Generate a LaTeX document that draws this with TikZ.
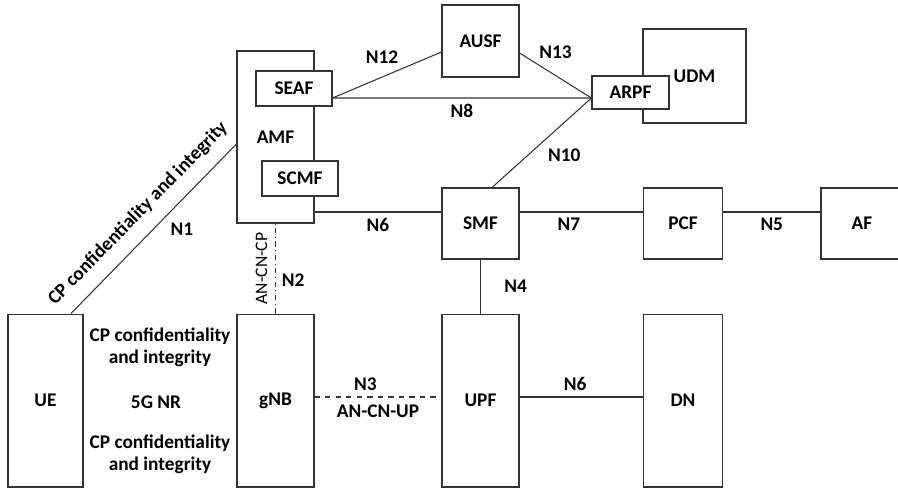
\documentclass[tikz,border=0pt]{standalone}
\usepackage{fontspec}
\setmainfont{Carlito}
\usepackage{tikz}
\usetikzlibrary{calc,positioning}
\tikzset{nfbox/.style={rectangle, draw=black!80, fill=white, line width=0.6pt, inner sep=0pt, align=center, font=\fontsize{11}{12.5}\selectfont\bfseries},
	lbl/.style={align=center, font=\fontsize{11}{12.5}\selectfont\bfseries},
	link/.style={draw=black!80, line width=0.6pt}}

\begin{document}
\begin{tikzpicture}[x=0.02cm,y=-0.02cm]
	\useasboundingbox (0,0) rectangle (898,488);
	\clip (0,0) rectangle (898,488);
	\node [nfbox, minimum width=1.54cm, minimum height=3.44cm] (amf) at (275.5,137) {AMF};
	\node [nfbox, minimum width=1.52cm, minimum height=0.70cm] (seaf) at (294,88.5) {SEAF};
	\node [nfbox, minimum width=1.52cm, minimum height=0.70cm] (scmf) at (300,178.5) {SCMF};
	\node [nfbox, minimum width=1.54cm, minimum height=1.44cm] (ausf) at (480.5,41) {AUSF};
	\node [nfbox, minimum width=2.06cm, minimum height=1.88cm] (udm) at (694.5,76) {UDM};
	\node [nfbox, minimum width=1.54cm, minimum height=0.66cm] (arpf) at (630.5,92.5) {ARPF};
	\node [nfbox, minimum width=1.54cm, minimum height=1.42cm] (smf) at (480.5,223.5) {SMF};
	\node [nfbox, minimum width=1.58cm, minimum height=1.42cm] (pcf) at (683,223.5) {PCF};
	\node [nfbox, minimum width=1.64cm, minimum height=1.42cm] (af) at (862,223.5) {AF};
	\node [nfbox, minimum width=1.50cm, minimum height=3.46cm] (ue) at (45.5,400.5) {UE};
	\node [nfbox, minimum width=1.54cm, minimum height=3.46cm] (gnb) at (275.5,400.5) {gNB};
	\node [nfbox, minimum width=1.54cm, minimum height=3.46cm] (upf) at (480.5,400.5) {UPF};
	\node [nfbox, minimum width=1.58cm, minimum height=3.46cm] (dn) at (683,400.5) {DN};

	\coordinate (s8) at ([yshift=-0.19cm]seaf.east);
	\coordinate (a8) at ([yshift=-0.11cm]arpf.west);
	\coordinate (c6) at ([yshift=0.23cm]smf.west);
	\draw [link] (s8) -- node[lbl, below] (n8) {N8} (a8);
	\draw [link] (s8) -- node[lbl, above=3pt, xshift=-0.1cm] (n12) {N12} ([yshift=-0.22cm]ausf.west);
	\draw [link] ([yshift=-0.24cm]ausf.east) -- node[lbl, above=6pt] (n13) {N13} (a8);
	\draw [link] ([xshift=0.23cm]smf.north) -- node[lbl, below right] (n10) {N10} (a8);
	\draw [link] (amf.east |- c6) -- node[lbl, below] (n6a) {N6} (c6);
	\draw [link] ([yshift=0.23cm]smf.east) -- node[lbl, below, pos=0.4] (n7) {N7} ([yshift=0.23cm]pcf.west);
	\draw [link] ([yshift=0.23cm]pcf.east) -- node[lbl, below] (n5) {N5} ([yshift=0.23cm]af.west);
	\draw [link] (smf.south) -- node[lbl, right=10pt] (n4) {N4} (upf.north);
	\draw [link, dash dot] (gnb.north) -- node[sloped, above=1pt, font=\fontsize{10}{12}\selectfont] (ancncp) {AN-CN-CP} node[lbl, right, pos=0.37] (n2) {N2} (amf.south);
	\draw [link, dashed] ([yshift=0.07cm]gnb.east) -- node[lbl, above, pos=0.4] (n3) {N3} node[lbl, below=1pt] (ancnup) {AN-CN-UP} ([yshift=0.07cm]upf.west);
	\draw [link] ([yshift=0.07cm]upf.east) -- node[lbl, above, pos=0.45] (n6b) {N6} ([yshift=0.07cm]dn.west);
	\draw [link] ([xshift=0.51cm]ue.north) -- node[lbl, sloped, above=4pt] (cpn1) {CP confidentiality and integrity} node[lbl, right=6pt] (n1) {N1} ([yshift=-0.14cm]amf.west);

	\node [lbl] (cpup) at (160,347) {CP confidentiality\\and integrity};
	\node [lbl] (nr) at (156,402) {5G NR};
	\node [lbl] (cpdn) at (160,454) {CP confidentiality\\and integrity};
\end{tikzpicture}
\end{document}
